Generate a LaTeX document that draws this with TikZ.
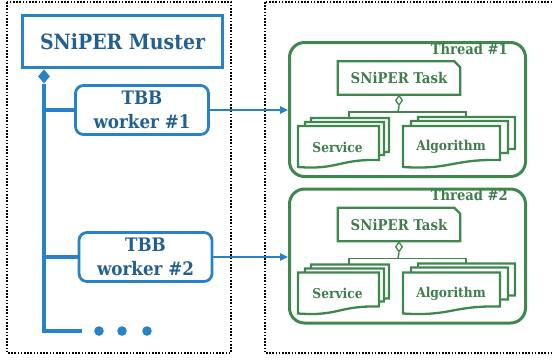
\documentclass[tikz,border=0pt]{standalone}
\usepackage{fontspec}
\setmainfont{DejaVu Serif Condensed}
\usetikzlibrary{arrows.meta,calc,shapes.geometric}
\definecolor{bstroke}{RGB}{40,130,200}
\definecolor{btext}{RGB}{35,95,145}
\definecolor{gstroke}{RGB}{62,136,78}
\definecolor{gtext}{RGB}{64,124,76}
\tikzset{
  dotbox/.style={draw=black, line width=1.7pt, dash pattern=on 1.6pt off 1.6pt},
  muster/.style={draw=bstroke, line width=3.4pt, minimum width=200pt, minimum height=52pt, font=\bfseries\fontsize{21}{23}\selectfont, text=btext},
  worker/.style={draw=bstroke, line width=2.8pt, rounded corners=8pt, minimum width=133pt, minimum height=49pt, align=center, font=\bfseries\fontsize{18.6}{24}\selectfont, text=btext},
  trunk/.style={draw=bstroke, line width=3.2pt},
  call/.style={draw=bstroke, line width=1.6pt, -{Triangle[length=8pt,width=7.5pt]}},
  thread/.style={draw=gstroke, line width=3pt, rounded corners=15pt, minimum width=236pt, minimum height=134pt},
  tlabel/.style={text=gtext, font=\bfseries\fontsize{14.6}{16}\selectfont, inner sep=0pt},
  task/.style={minimum width=122pt, minimum height=33pt, text=gtext, font=\bfseries\fontsize{14.8}{16}\selectfont},
  doc/.style={draw=gstroke, line width=2.3pt, fill=white},
  doctext/.style={text=gtext, font=\bfseries\fontsize{13.6}{15}\selectfont},
  gline/.style={draw=gstroke, line width=1.5pt},
}
% document shape: x0 y0 (top-left) x1 (right) y1 (left bottom)
\newcommand{\docshp}[4]{%
  \path[doc] (#1,#2) -- (#3,#2) -- (#3,#4-7) .. controls ({#1+0.5*(#3-#1)},#4-8) and ({#1+0.5*(#3-#1)},#4+3) .. (#1,#4) -- cycle;}
\newcommand{\threadblock}[3]{% #1 offset, #2 name suffix, #3 label
  \node[thread] (th#2) at (407.5,109.5+#1) {};
  \node[tlabel, anchor=base east] (tl#2) at (508,54+#1) {#3};
  \node[task] (tk#2) at (399,78+#1) {SNiPER Task};
  \draw[gstroke, line width=2.3pt] (tk#2.north west) -- ($(tk#2.north east)+(-6,0)$) -- ($(tk#2.north east)+(0,6)$) -- (tk#2.south east) -- (tk#2.south west) -- cycle;
  \node[diamond, draw=gstroke, line width=1.3pt, fill=white, inner sep=0pt, minimum width=7pt, minimum height=10pt, anchor=north] (dm#2) at (tk#2.south) {};
  \coordinate (bar#2) at (398,112+#1);
  % service stack
  \docshp{311}{118+#1}{389}{159+#1}
  \docshp{305}{122+#1}{384}{162+#1}
  \docshp{298}{126+#1}{379}{167+#1}
  \node[doctext] (sv#2) at (337.5,147+#1) {Service};
  % algorithm stack
  \docshp{418}{117+#1}{515}{156+#1}
  \docshp{411}{121+#1}{508}{160+#1}
  \docshp{403}{126+#1}{500}{167+#1}
  \node[doctext] (al#2) at (451,147+#1) {Algorithm};
  \coordinate (sa#2) at (349,118+#1);
  \coordinate (aa#2) at (466,117+#1);
  \draw[gline] (dm#2.south) -- (bar#2);
  \draw[gline] (sa#2) -- (sa#2 |- bar#2) -- (aa#2 |- bar#2) -- (aa#2);
}
\begin{document}
\begin{tikzpicture}[x=1pt,y=-1pt]
\useasboundingbox (0,0) rectangle (553,360);
\clip (0,0) rectangle (553,360);
\draw[dotbox] (7,2) rectangle (231,353);
\draw[dotbox] (265,2) rectangle (560,353);

\node[muster] (m) at (122.5,41.5) {SNiPER Muster};
\node[worker] (w1) at (142,110) {TBB\\worker \#1};
\node[worker] (w2) at (145.5,257) {TBB\\worker \#2};
\coordinate (mdtop) at (44,69);
\node[diamond, fill=bstroke, inner sep=0pt, minimum width=12pt, minimum height=14pt, anchor=north] (md) at (mdtop |- m.south) {};
\coordinate (tend) at (44,331);
\coordinate (tr) at (82,331);
\draw[trunk] (md.south) -- (tend) -- (tr);
\draw[trunk] (md.south |- w1.west) -- (w1.west);
\draw[trunk] (md.south |- w2.west) -- (w2.west);
\foreach \x [count=\i] in {99,122,147} \fill[bstroke] (\x,331) circle (4.8pt) node (dot\i) {};

\threadblock{0}{a}{Thread \#1}
\threadblock{146.5}{b}{Thread \#2}

\draw[call] (w1.east) -- (w1.east -| tha.west);
\draw[call] (w2.east) -- (w2.east -| thb.west);
\end{tikzpicture}
\end{document}
